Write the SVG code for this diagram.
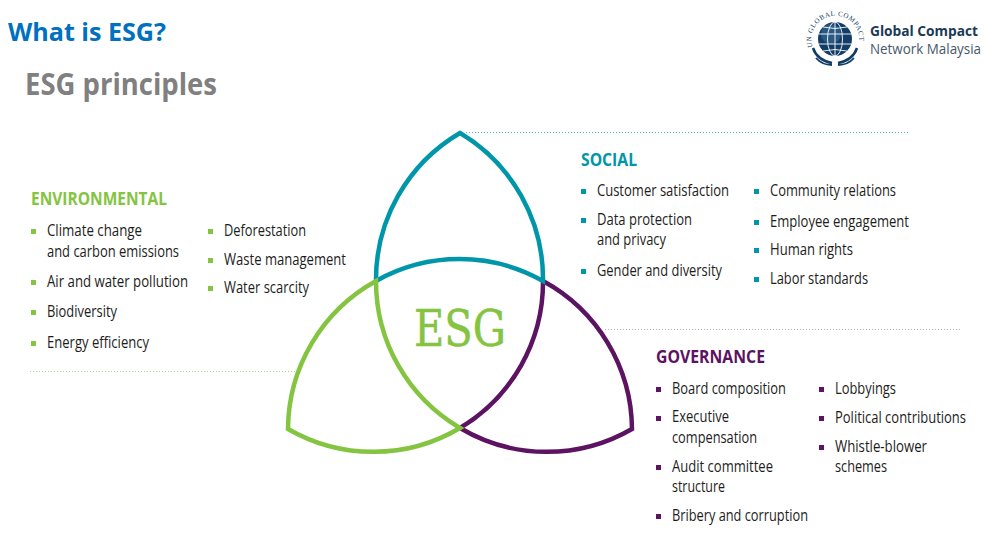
<svg xmlns="http://www.w3.org/2000/svg" width="995" height="540" viewBox="0 0 995 540">
<style>
text{font-family:"Open Sans","Noto Sans","Liberation Sans",sans-serif}
.i{font-size:16px;fill:#1d1d1b}
.h{font-size:18.500px;font-weight:700}
.arc{fill:none;stroke-width:4.500;stroke-linejoin:miter}
.dot{fill:none;stroke-width:1;stroke-dasharray:1 2;opacity:.7}
</style>
<rect width="995" height="540" fill="#fff"/>
<g id="title">
<text x="8" y="41" font-size="25.500" font-weight="700" fill="#0070c0" textLength="158" lengthAdjust="spacingAndGlyphs">What is ESG?</text>
<text x="25" y="95" font-size="31" font-weight="700" fill="#808080" textLength="192" lengthAdjust="spacingAndGlyphs">ESG principles</text>
</g>
<g id="logo">
<defs><path id="lg" d="M812.500,47 A24,24 0 1 1 858.500,46"/></defs>
<circle cx="835" cy="39" r="17" fill="#123d66"/>
<circle cx="831" cy="34" r="10" fill="#3a6d98" opacity=".6"/>
<g fill="none" stroke="#fff" stroke-width=".9">
<ellipse cx="835" cy="39" rx="7.500" ry="17"/><path d="M835,22V56M819,34H851M819,44H851M823,27Q835,30 847,27M823,51Q835,48 847,51"/>
</g>
<g fill="none" stroke="#123d66" stroke-width="2.500">
<path d="M813,48Q817,60 832,63M857,48Q853,60 838,63"/>
<path d="M816,58Q822,65 832,65M854,58Q848,65 838,65" stroke-width="1.800"/>
</g>
<text font-size="7" fill="#123d66" style="font-family:'Liberation Serif',serif"><textPath href="#lg" textLength="84" lengthAdjust="spacing">UN GLOBAL COMPACT</textPath></text>
<text x="870" y="36" font-size="14.500" font-weight="700" fill="#1b3a57" textLength="108" lengthAdjust="spacingAndGlyphs">Global Compact</text>
<text x="870" y="54" font-size="14.500" fill="#46596b" textLength="111" lengthAdjust="spacingAndGlyphs">Network Malaysia</text>
</g>
<g id="connectors">
<path class="dot" stroke="#0096a9" d="M466,132.500H908"/>
<path class="dot" stroke="#9a8a9c" d="M605,329.500H960"/>
<path class="dot" stroke="#84c441" d="M30,371.500H295"/>
</g>
<g id="venn-purple"><path class="arc" stroke="#5c1361" d="M543,281A170,170 0 0 1 460,428M543,281A170,170 0 0 1 632,429A170,170 0 0 1 460,428"/></g>
<g id="venn-teal"><path class="arc" stroke="#0096a9" d="M376,281A170,170 0 0 1 460,133A170,170 0 0 1 543,281A170,170 0 0 0 376,281Z"/></g>
<g id="venn-green"><path class="arc" stroke="#84c441" d="M376,281A170,170 0 0 0 288,429A170,170 0 0 0 460,428A170,170 0 0 1 376,281Z"/></g>
<g id="esg-label"><text x="414" y="346" font-size="50" fill="#84c441" stroke="#84c441" stroke-width=".5" style="font-family:'DejaVu Serif','Liberation Serif',serif" textLength="92" lengthAdjust="spacingAndGlyphs">ESG</text></g>
<g id="environmental">
<text class="h" x="31" y="205" fill="#84c441" textLength="136" lengthAdjust="spacingAndGlyphs">ENVIRONMENTAL</text>
<g fill="#84c441"><rect x="31" y="229" width="5" height="5"/><rect x="31" y="280" width="5" height="5"/><rect x="31" y="310" width="5" height="5"/><rect x="31" y="341" width="5" height="5"/><rect x="208" y="229" width="5" height="5"/><rect x="208" y="258" width="5" height="5"/><rect x="208" y="286" width="5" height="5"/></g>
<text class="i" x="47" y="236" textLength="95" lengthAdjust="spacingAndGlyphs">Climate change</text>
<text class="i" x="47" y="257" textLength="132" lengthAdjust="spacingAndGlyphs">and carbon emissions</text>
<text class="i" x="47" y="287" textLength="141" lengthAdjust="spacingAndGlyphs">Air and water pollution</text>
<text class="i" x="47" y="317" textLength="70" lengthAdjust="spacingAndGlyphs">Biodiversity</text>
<text class="i" x="47" y="348" textLength="102" lengthAdjust="spacingAndGlyphs">Energy efficiency</text>
<text class="i" x="224" y="236" textLength="82" lengthAdjust="spacingAndGlyphs">Deforestation</text>
<text class="i" x="224" y="265" textLength="122" lengthAdjust="spacingAndGlyphs">Waste management</text>
<text class="i" x="224" y="293" textLength="85" lengthAdjust="spacingAndGlyphs">Water scarcity</text>
</g>
<g id="social">
<text class="h" x="581" y="166" fill="#0096a9" textLength="56" lengthAdjust="spacingAndGlyphs">SOCIAL</text>
<g fill="#0096a9"><rect x="581" y="189" width="5" height="5"/><rect x="581" y="218" width="5" height="5"/><rect x="581" y="269" width="5" height="5"/><rect x="754" y="189" width="5" height="5"/><rect x="754" y="220" width="5" height="5"/><rect x="754" y="248" width="5" height="5"/><rect x="754" y="277" width="5" height="5"/></g>
<text class="i" x="597" y="196" textLength="132" lengthAdjust="spacingAndGlyphs">Customer satisfaction</text>
<text class="i" x="597" y="225" textLength="95" lengthAdjust="spacingAndGlyphs">Data protection</text>
<text class="i" x="597" y="245" textLength="69" lengthAdjust="spacingAndGlyphs">and privacy</text>
<text class="i" x="597" y="276" textLength="125" lengthAdjust="spacingAndGlyphs">Gender and diversity</text>
<text class="i" x="770" y="196" textLength="126" lengthAdjust="spacingAndGlyphs">Community relations</text>
<text class="i" x="770" y="227" textLength="139" lengthAdjust="spacingAndGlyphs">Employee engagement</text>
<text class="i" x="770" y="255" textLength="83" lengthAdjust="spacingAndGlyphs">Human rights</text>
<text class="i" x="770" y="284" textLength="98" lengthAdjust="spacingAndGlyphs">Labor standards</text>
</g>
<g id="governance">
<text class="h" x="656" y="363" fill="#5c1361" textLength="109" lengthAdjust="spacingAndGlyphs">GOVERNANCE</text>
<g fill="#5c1361"><rect x="656" y="387" width="5" height="5"/><rect x="656" y="416" width="5" height="5"/><rect x="656" y="465" width="5" height="5"/><rect x="656" y="514" width="5" height="5"/><rect x="819" y="387" width="5" height="5"/><rect x="819" y="416" width="5" height="5"/><rect x="819" y="445" width="5" height="5"/></g>
<text class="i" x="672" y="394" textLength="114" lengthAdjust="spacingAndGlyphs">Board composition</text>
<text class="i" x="672" y="422" textLength="57" lengthAdjust="spacingAndGlyphs">Executive</text>
<text class="i" x="672" y="443" textLength="85" lengthAdjust="spacingAndGlyphs">compensation</text>
<text class="i" x="672" y="472" textLength="101" lengthAdjust="spacingAndGlyphs">Audit committee</text>
<text class="i" x="672" y="492" textLength="53" lengthAdjust="spacingAndGlyphs">structure</text>
<text class="i" x="672" y="521" textLength="136" lengthAdjust="spacingAndGlyphs">Bribery and corruption</text>
<text class="i" x="835" y="394" textLength="61" lengthAdjust="spacingAndGlyphs">Lobbyings</text>
<text class="i" x="835" y="423" textLength="131" lengthAdjust="spacingAndGlyphs">Political contributions</text>
<text class="i" x="835" y="452" textLength="92" lengthAdjust="spacingAndGlyphs">Whistle-blower</text>
<text class="i" x="835" y="472" textLength="52" lengthAdjust="spacingAndGlyphs">schemes</text>
</g>
</svg>
